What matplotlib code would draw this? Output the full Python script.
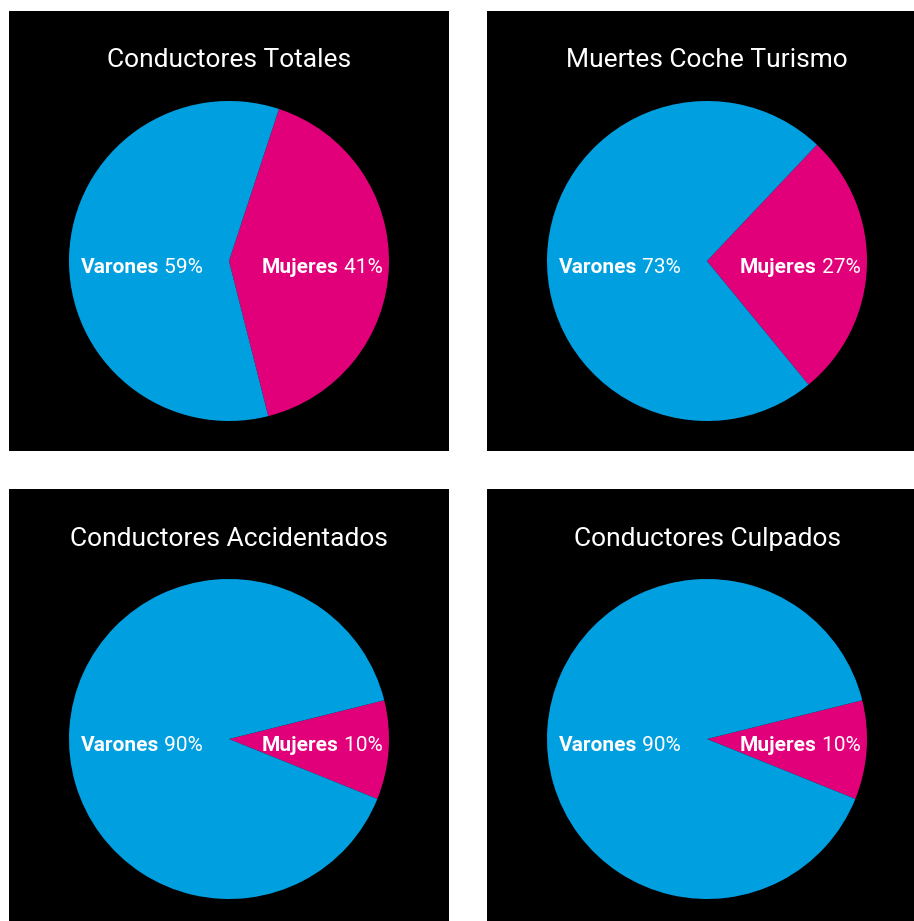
import matplotlib.pyplot as plt
from matplotlib.patches import Rectangle

plt.rcParams["font.family"] = ["Roboto", "DejaVu Sans"]

titles = ["Conductores Totales", "Muertes Coche Turismo",
          "Conductores Accidentados", "Conductores Culpados"]
varones = [59, 73, 90, 90]
mujeres = [41, 27, 10, 10]
# angle (deg) of the middle of the Mujeres wedge
mujeres_mid = [-2, -2, -4, -4]

BLUE = "#009FE0"
PINK = "#E2007A"

W, H = 914, 921
fig = plt.figure(figsize=(W / 100, H / 100), dpi=100, facecolor="white")

# panel top-left corners in pixels
corners = [(9, 11), (487, 11), (9, 489), (487, 489)]
size = 440


def label(ax, cx, cy, bold, regular):
    r = fig.canvas.get_renderer()
    t1 = ax.text(0, cy, bold, color="white", fontsize=15, fontweight="bold",
                 ha="left", va="center")
    t2 = ax.text(0, cy, " " + regular, color="white", fontsize=15,
                 ha="left", va="center")
    w1 = t1.get_window_extent(r).width
    w2 = t2.get_window_extent(r).width
    x0 = cx - (w1 + w2) / 2
    t1.set_x(x0)
    t2.set_x(x0 + w1)


for i, (x, y) in enumerate(corners):
    ax = fig.add_axes([x / W, 1 - (y + size) / H, size / W, size / H])
    ax.add_patch(Rectangle((0, 0), size, size, color="black", zorder=0))

    start = mujeres_mid[i] - mujeres[i] * 3.6 / 2
    ax.pie([mujeres[i], varones[i]], colors=[PINK, BLUE], startangle=start,
           counterclock=True, center=(220, 190), radius=160,
           wedgeprops=dict(linewidth=0), frame=True)
    ax.set_xlim(0, size)
    ax.set_ylim(0, size)
    ax.axis("off")

    ty = size - 49 if i < 2 else size - 50
    ax.text(220, ty, titles[i], color="white", fontsize=19,
            ha="center", va="center")
    label(ax, 133, 184, "Varones", f"{varones[i]}%")
    label(ax, 313, 184, "Mujeres", f"{mujeres[i]}%")

fig.savefig("out.png", dpi=100, facecolor="white")
